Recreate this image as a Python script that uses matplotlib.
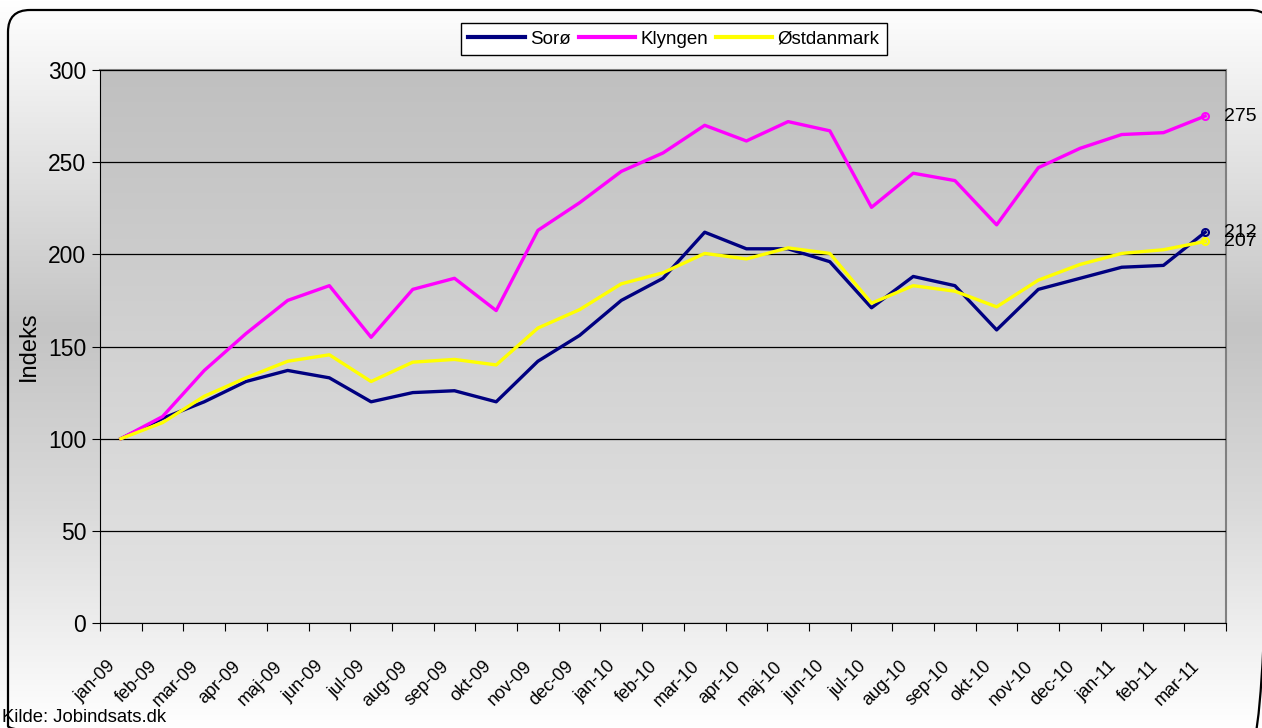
import numpy as np
import matplotlib
matplotlib.use('Agg')
from matplotlib import pyplot as plt
from matplotlib.patches import FancyBboxPatch
from matplotlib.colors import LinearSegmentedColormap
from matplotlib.transforms import ScaledTranslation

plt.rcParams['font.family'] = ['Liberation Sans', 'DejaVu Sans']

months = ['jan-09', 'feb-09', 'mar-09', 'apr-09', 'maj-09', 'jun-09', 'jul-09', 'aug-09', 'sep-09',
          'okt-09', 'nov-09', 'dec-09', 'jan-10', 'feb-10', 'mar-10', 'apr-10', 'maj-10', 'jun-10',
          'jul-10', 'aug-10', 'sep-10', 'okt-10', 'nov-10', 'dec-10', 'jan-11', 'feb-11', 'mar-11']

soroe = [100, 111, 120, 131, 137, 133, 120, 125, 126, 120, 142, 156, 175, 187, 212, 203, 203, 196,
         171, 188, 183, 159, 181, 187, 193, 194, 212]
klyngen = [100, 112, 137, 157, 175, 183, 155, 181, 187, 169.5, 213, 228, 245, 255, 270, 261.5, 272, 267,
           225.5, 244, 240, 216, 247, 257.5, 265, 266, 275]
oestdanmark = [100, 108.7, 123, 133, 142, 145.5, 131, 141.5, 143, 140, 160, 170, 184, 190, 200.5, 197.5,
               203.5, 200.5, 173.5, 183, 180, 171.5, 186, 194.5, 200.5, 202.5, 207]

series = [('Sorø', soroe, '#000080'), ('Klyngen', klyngen, '#FF00FF'), ('Østdanmark', oestdanmark, '#FFFF00')]

W, H = 1262, 728
fig = plt.figure(figsize=(W / 100, H / 100), dpi=100)

# background gradient for the whole chart, in pixel units
bg = fig.add_axes([0, 0, 1, 1], zorder=-10)
bg_cmap = LinearSegmentedColormap.from_list('bg', [(0, '#FFFFFF'), (0.45, '#C4C4C4'), (0.7, '#DADADA'), (1, '#FFFFFF')])
bg.imshow(np.linspace(0, 1, 256).reshape(-1, 1), aspect='auto', cmap=bg_cmap, extent=[0, W, H, 0])
bg.set_xlim(0, W)
bg.set_ylim(H, 0)
bg.axis('off')
border = FancyBboxPatch((8, 10), W + 10 - 8, H + 20 - 10, boxstyle='round,pad=0,rounding_size=22',
                        fill=False, edgecolor='black', linewidth=1.6)
bg.add_patch(border)

ax = fig.add_axes([100 / W, 1 - 623 / H, 1126 / W, 553 / H])
x = np.arange(len(months))

# plot area gradient
pa_cmap = LinearSegmentedColormap.from_list('pa', ['#E4E4E4', '#C0C0C0'])
ax.imshow(np.linspace(0, 1, 256).reshape(-1, 1), aspect='auto', cmap=pa_cmap, origin='lower',
          extent=[-0.5, len(months) - 0.5, 0, 300], zorder=0)

for name, vals, col in series:
    ax.plot(x, vals, color=col, linewidth=2.4, label=name, zorder=3)
    ax.plot(x[-1], vals[-1], 'o', markersize=5, markerfacecolor='none', markeredgecolor=col,
            markeredgewidth=1.5, zorder=4)
    ax.text(x[-1] + 0.45, vals[-1], '%d' % round(vals[-1]), fontsize=14, va='center', ha='left',
            clip_on=False)

ax.set_xlim(-0.5, len(months) - 0.5)
ax.set_ylim(0, 300)
ax.set_yticks(np.arange(0, 301, 50))
ax.tick_params(axis='y', labelsize=16.5, direction='out', length=6, pad=4)
ax.grid(axis='y', color='black', linewidth=0.9, zorder=1)
ax.set_axisbelow(False)
ax.set_xticks(np.arange(len(months) + 1) - 0.5, minor=False)
ax.set_xticklabels([])
ax.set_xticks(x, minor=True)
ax.set_xticklabels(months, minor=True, rotation=45, ha='right', rotation_mode='anchor', fontsize=13)
ax.tick_params(axis='x', which='major', direction='out', length=6)
ax.tick_params(axis='x', which='minor', length=0, pad=25)
shift = ScaledTranslation(-0.14, 0, fig.dpi_scale_trans)
for lbl in ax.get_xticklabels(minor=True):
    lbl.set_transform(lbl.get_transform() + shift)
ax.set_ylabel('Indeks', fontsize=17, labelpad=6)
for s in ['top', 'right']:
    ax.spines[s].set_color('#808080')
    ax.spines[s].set_linewidth(1.5)
for s in ['left', 'bottom']:
    ax.spines[s].set_color('black')

leg = fig.legend(loc='center', bbox_to_anchor=(674 / W, 1 - 39 / H), ncol=3, fontsize=13.5,
                 frameon=True, fancybox=False, edgecolor='black', handlelength=3.0,
                 handletextpad=0.3, columnspacing=0.4, borderpad=0.4)
leg.get_frame().set_facecolor('white')
leg.get_frame().set_alpha(1)
for h in leg.legend_handles:
    h.set_linewidth(3)

fig.text(2 / W, 1 - 717 / H, 'Kilde: Jobindsats.dk', fontsize=13.3, va='center', ha='left')

fig.savefig('out.png', dpi=100)
